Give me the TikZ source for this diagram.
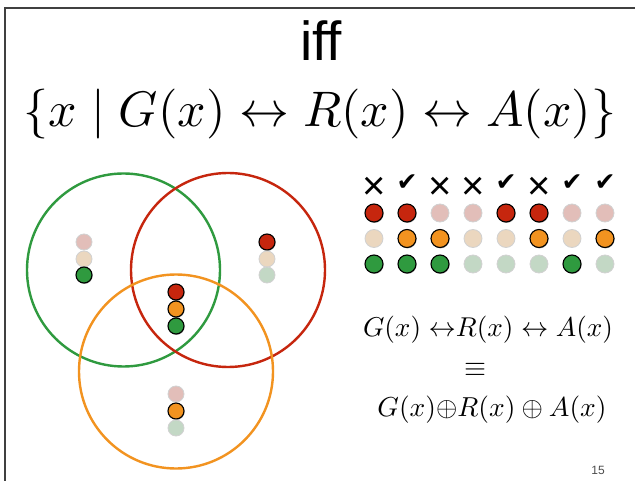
\documentclass[tikz,border=0pt]{standalone}
\usepackage{fontspec}
\usepackage{graphicx}
\usetikzlibrary{shadows}
\newfontfamily\sansfam{Liberation Sans}
\newfontfamily\symfam{DejaVu Sans}
\definecolor{cR}{HTML}{C6260E}
\definecolor{cO}{HTML}{F29320}
\definecolor{cG}{HTML}{2F9A3F}
\definecolor{cRf}{HTML}{E2BEB9}
\definecolor{cOf}{HTML}{EBD7BF}
\definecolor{cGf}{HTML}{C3D8C5}
\definecolor{frame}{HTML}{404040}
\newcommand{\crossmk}{{\sansfam\fontsize{40}{40}\selectfont ×}}
\newcommand{\checkmk}{{\symfam\fontsize{25}{25}\selectfont ✔}}
\tikzset{
  dotbase/.style={circle, inner sep=0pt, minimum size=16pt},
  onstyle/.style={dotbase, draw=black, line width=1.1pt,
    drop shadow={shadow xshift=0.6pt, shadow yshift=-0.9pt, opacity=0.35, fill=black}},
  offstyle/.style={dotbase, draw=black!18, line width=0.8pt},
  redon/.style={onstyle, fill=cR}, redoff/.style={offstyle, fill=cRf},
  orangeon/.style={onstyle, fill=cO}, orangeoff/.style={offstyle, fill=cOf},
  greenon/.style={onstyle, fill=cG}, greenoff/.style={offstyle, fill=cGf},
  tabdot/.style={minimum size=18pt},
  venn/.style={line width=2.4pt},
  tickmark/.style={inner sep=0pt}
}
\begin{document}
\begin{tikzpicture}[x=1pt,y=-1pt]
\useasboundingbox (0,0) rectangle (635,481);
\fill[white] (0,0) rectangle (635,481);
% frame
\draw[frame, line width=1.5pt] (5,481) -- (5,8) -- (635,8);
% title
\node (title) at (321,41) {\sansfam\fontsize{55}{55}\selectfont iff};
\node (setf) at (320,114) {\resizebox{592pt}{!}{$\{x \mid G(x)\leftrightarrow R(x)\leftrightarrow A(x)\}$}};
% venn circles
\draw[venn, cG] (123.5,270) circle (96.5);
\draw[venn, cR] (228,270) circle (97);
\draw[venn, cO] (176,371.5) circle (97);
% dots in regions
\node[redoff] (gR) at (84,242) {};
\node[orangeoff] (gO) at (84,259) {};
\node[greenon] (gG) at (84,275) {};
\node[redon] (cRd) at (176,292) {};
\node[orangeon] (cOd) at (176,309) {};
\node[greenon] (cGd) at (176,326) {};
\node[redon] (rR) at (267,242) {};
\node[orangeoff] (rO) at (267,259) {};
\node[greenoff] (rG) at (267,275) {};
\node[redoff] (oR) at (176,394) {};
\node[orangeon] (oO) at (176,411) {};
\node[greenoff] (oG) at (176,428) {};
% truth table
\foreach \i/\x/\r/\o/\g/\m/\my in {
  1/374/on/off/on/\crossmk/188, 2/407/on/on/on/\checkmk/183, 3/440/off/on/on/\crossmk/188, 4/473/off/off/off/\crossmk/188,
  5/506/on/off/off/\checkmk/183, 6/539/on/on/off/\crossmk/188, 7/572/off/off/on/\checkmk/183, 8/605/off/on/off/\checkmk/183}{
  \node[tickmark] (m\i) at (\x,\my) {\m};
  \node[red\r, tabdot] (tR\i) at (\x,213) {};
  \node[orange\o, tabdot] (tO\i) at (\x,238.5) {};
  \node[green\g, tabdot] (tG\i) at (\x,264) {};
}
% formulas
\node (f1) at (488,330) {\resizebox{250pt}{!}{$G(x)\;{\leftrightarrow}R(x)\leftrightarrow A(x)$}};
\node (f2) at (475,370) {\resizebox{22pt}{!}{$\equiv$}};
\node (f3) at (492,410) {\resizebox{229pt}{!}{$G(x){\oplus}R(x)\oplus A(x)$}};
\node[text=black!70] (pg) at (598,470) {\sansfam\fontsize{12}{12}\selectfont 15};
\end{tikzpicture}
\end{document}
